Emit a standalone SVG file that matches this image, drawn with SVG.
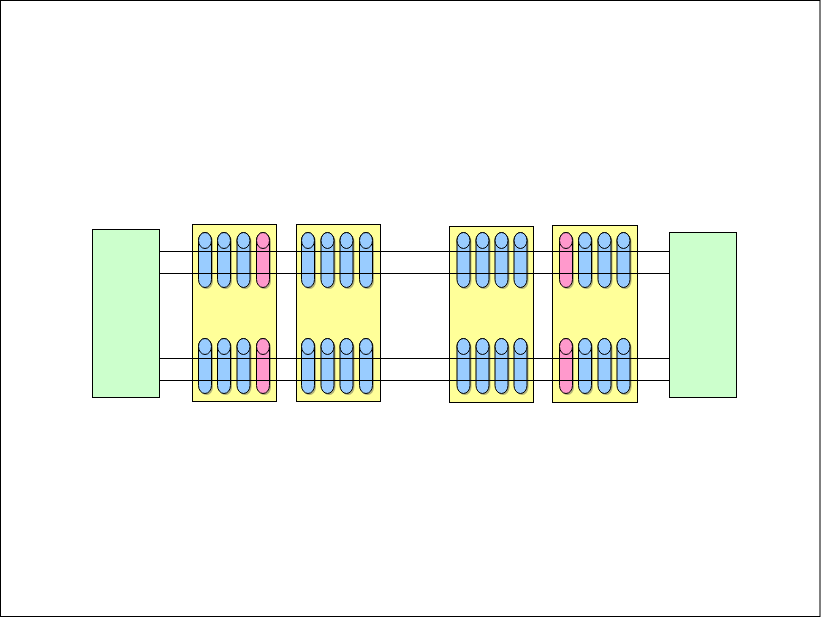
<svg xmlns="http://www.w3.org/2000/svg" xmlns:xlink="http://www.w3.org/1999/xlink" width="821" height="618" viewBox="0 0 821 618">
<style>
.frame{fill:#fff;stroke:#000;stroke-width:1}
.end{fill:#CCFFCC;stroke:#000;stroke-width:1}
.card{fill:#FFFF99;stroke:#000;stroke-width:1}
.conn line{stroke:#000;stroke-width:1}
</style>
<defs>
<g id="shape">
<path d="M0,8 V47 A6.5,8 0 0 0 13,47 V8 A6.5,8 0 0 0 0,8 Z"/>
</g>
<g id="cb">
<use xlink:href="#shape" transform="translate(1.5,1.5)" fill="#555" fill-opacity="0.45"/>
<path d="M0,8 V47 A6.5,8 0 0 0 13,47 V8 A6.5,8 0 0 0 0,8 Z" fill="#99CCFF" stroke="#000" stroke-width="1"/>
<ellipse cx="6.5" cy="8" rx="6.5" ry="8" fill="#99CCFF" stroke="#000" stroke-width="1"/>
</g>
<g id="cp">
<use xlink:href="#shape" transform="translate(1.5,1.5)" fill="#555" fill-opacity="0.45"/>
<path d="M0,8 V47 A6.5,8 0 0 0 13,47 V8 A6.5,8 0 0 0 0,8 Z" fill="#FF99CC" stroke="#000" stroke-width="1"/>
<ellipse cx="6.5" cy="8" rx="6.5" ry="8" fill="#FF99CC" stroke="#000" stroke-width="1"/>
</g>
</defs>
<rect class="frame" x="0.5" y="0.5" width="819.5" height="616"/>
<g id="left-end"><rect class="end" x="92.5" y="229.5" width="67" height="168"/></g>
<g id="right-end"><rect class="end" x="669.5" y="232.5" width="67" height="165"/></g>
<g id="card1">
<rect class="card" x="192.5" y="224.5" width="84" height="177"/>
<use xlink:href="#cb" x="198.5" y="232.5"/><use xlink:href="#cb" x="217.5" y="232.5"/><use xlink:href="#cb" x="237" y="232.5"/><use xlink:href="#cp" x="256.5" y="232.5"/>
<use xlink:href="#cb" x="198.5" y="338.5"/><use xlink:href="#cb" x="217.5" y="338.5"/><use xlink:href="#cb" x="237" y="338.5"/><use xlink:href="#cp" x="256.5" y="338.5"/>
</g>
<g id="card2">
<rect class="card" x="296.5" y="224.5" width="84" height="177"/>
<use xlink:href="#cb" x="301.5" y="232.5"/><use xlink:href="#cb" x="321" y="232.5"/><use xlink:href="#cb" x="340" y="232.5"/><use xlink:href="#cb" x="359.5" y="232.5"/>
<use xlink:href="#cb" x="301.5" y="338.5"/><use xlink:href="#cb" x="321" y="338.5"/><use xlink:href="#cb" x="340" y="338.5"/><use xlink:href="#cb" x="359.5" y="338.5"/>
</g>
<g id="card3">
<rect class="card" x="449.5" y="226.5" width="84" height="176"/>
<use xlink:href="#cb" x="457" y="232.5"/><use xlink:href="#cb" x="476" y="232.5"/><use xlink:href="#cb" x="495" y="232.5"/><use xlink:href="#cb" x="514" y="232.5"/>
<use xlink:href="#cb" x="457" y="338.5"/><use xlink:href="#cb" x="476" y="338.5"/><use xlink:href="#cb" x="495" y="338.5"/><use xlink:href="#cb" x="514" y="338.5"/>
</g>
<g id="card4">
<rect class="card" x="552.5" y="225.5" width="85" height="177"/>
<use xlink:href="#cp" x="559.5" y="232.5"/><use xlink:href="#cb" x="578.5" y="232.5"/><use xlink:href="#cb" x="598" y="232.5"/><use xlink:href="#cb" x="617" y="232.5"/>
<use xlink:href="#cp" x="559.5" y="338.5"/><use xlink:href="#cb" x="578.5" y="338.5"/><use xlink:href="#cb" x="598" y="338.5"/><use xlink:href="#cb" x="617" y="338.5"/>
</g>
<g id="connectors" class="conn">
<line x1="159.5" y1="251.5" x2="669.5" y2="251.5"/>
<line x1="159.5" y1="273.5" x2="669.5" y2="273.5"/>
<line x1="159.5" y1="358.5" x2="669.5" y2="358.5"/>
<line x1="159.5" y1="380.5" x2="669.5" y2="380.5"/>
</g>
</svg>
